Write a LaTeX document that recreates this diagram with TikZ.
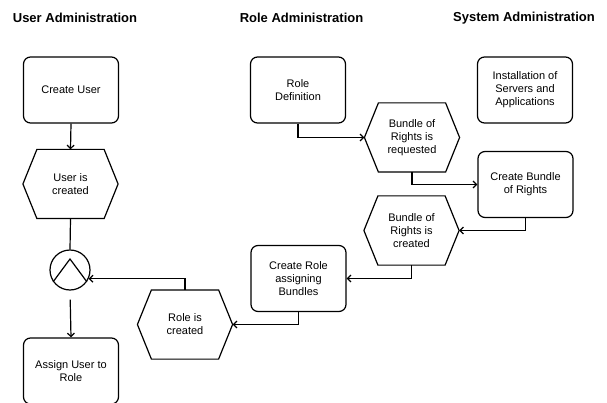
\documentclass[tikz,border=0pt]{standalone}
\usepackage{fontspec}
\setmainfont{Liberation Sans}
\usetikzlibrary{arrows.meta}
\begin{document}
\begin{tikzpicture}[x=1pt,y=-1pt,
  line width=1.2pt,
  every node/.style={align=center,font=\fontsize{11}{13}\selectfont},
  fnbox/.style={draw,rounded corners=7pt,minimum width=95pt,minimum height=66pt,inner sep=0pt},
  evt/.style={minimum width=94pt,minimum height=68pt,inner sep=0pt},
  head/.style={font=\bfseries\fontsize{13}{15}\selectfont},
  flow/.style={-{Straight Barb[length=3.5pt,width=7pt]}},
]
\clip (0,0) rectangle (607,403);

% column headings
\node[head] (h1) at (75,18) {User Administration};
\node[head] (h2) at (301.5,18) {Role Administration};
\node[head] (h3) at (524,18) {System Administration};

% functions
\node[fnbox] (cu) at (71,90) {Create User};
\node[fnbox] (rd) at (298,90) {Role\\Definition};
\node[fnbox] (is) at (525,90) {Installation of\\Servers and\\Applications};
\node[fnbox] (cb) at (525.5,184.5) {Create Bundle\\of Rights};
\node[fnbox] (cr) at (298.5,278.5) {Create Role\\assigning\\Bundles};
\node[fnbox] (au) at (71,371) {Assign User to\\Role};

% events
\node[evt] (uc) at (70.5,184) {User is\\created};
\node[evt] (br) at (412,137.5) {Bundle of\\Rights is\\requested};
\node[evt] (bc) at (411.5,230.5) {Bundle of\\Rights is\\created};
\node[evt] (rc) at (185,324.5) {Role is\\created};
\foreach \n in {uc,br,bc,rc}
  \draw (\n.west) -- ([xshift=14pt]\n.north west) -- ([xshift=-14pt]\n.north east)
        -- (\n.east) -- ([xshift=-14pt]\n.south east) -- ([xshift=14pt]\n.south west) -- cycle;

% AND connector
\node[draw,circle,minimum size=40pt,inner sep=0pt] (or) at (70,270) {};
\draw (or.-145) -- ([yshift=11pt]or.center) -- (or.-35);

% control flow
\draw[flow] (cu.south) -- (uc.north);
\draw (uc.south) -- (or.north);
\draw[flow,shorten <=9pt] (or.south) -- (au.north);
\draw[flow] (rc.north) |- (or.-25);
\draw[flow] (rd.south) |- (br.west);
\draw[flow] (br.south) |- (cb.west);
\draw[flow] (cb.south) |- (bc.east);
\draw[flow] (bc.south) |- (cr.east);
\draw[flow] (cr.south) |- (rc.east);
\end{tikzpicture}
\end{document}
